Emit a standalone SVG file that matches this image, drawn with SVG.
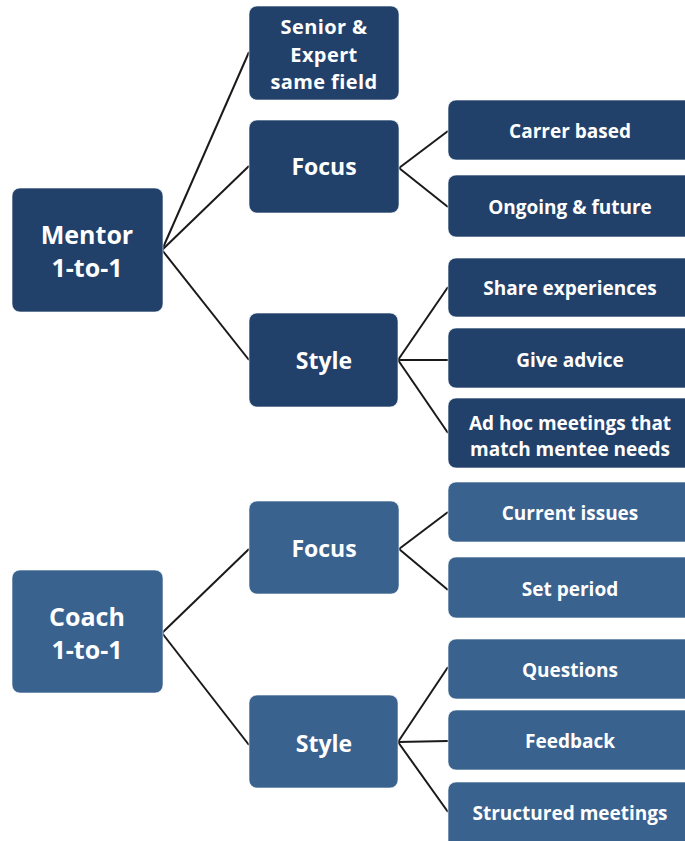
<svg xmlns="http://www.w3.org/2000/svg" width="685" height="841" viewBox="0 0 685 841">
<style>
.m{fill:#22416a}
.c{fill:#3a628f}
.b{stroke:#ffffff;stroke-opacity:0.6;stroke-width:1}
text{font-family:"Open Sans",Lato,"Liberation Sans",sans-serif;font-weight:700;fill:#ffffff;text-anchor:middle}
.t1{font-size:25px}
.t2{font-size:23px}
.t4{font-size:20px;letter-spacing:0.4px}
.t3{font-size:19px}
.conn line{stroke:#1a1a1a;stroke-width:2}
</style>
<rect width="685" height="841" fill="#ffffff"/>
<g class="conn" id="connectors">
<line x1="162" y1="250" x2="249" y2="52"/>
<line x1="162" y1="250" x2="249" y2="166"/>
<line x1="162" y1="250" x2="249" y2="360"/>
<line x1="399" y1="168" x2="448" y2="131"/>
<line x1="399" y1="168" x2="448" y2="207"/>
<line x1="398" y1="360" x2="448" y2="287"/>
<line x1="398" y1="360" x2="448" y2="360"/>
<line x1="398" y1="360" x2="448" y2="433"/>
<line x1="162" y1="633" x2="249" y2="549"/>
<line x1="162" y1="633" x2="249" y2="745"/>
<line x1="399" y1="549" x2="448" y2="512"/>
<line x1="399" y1="549" x2="448" y2="590"/>
<line x1="398" y1="742" x2="448" y2="667"/>
<line x1="398" y1="742" x2="448" y2="741"/>
<line x1="398" y1="742" x2="448" y2="812"/>
</g>
<g id="mentor"><rect class="m b" x="12" y="188" width="151" height="124" rx="8"/><text class="t1" x="87" y="244">Mentor</text><text class="t1" x="87" y="277">1-to-1</text></g>
<g id="senior"><rect class="m b" x="249" y="6" width="150" height="94" rx="8"/><text class="t4" x="324" y="34">Senior &amp;</text><text class="t4" x="324" y="61.5">Expert</text><text class="t4" x="324" y="89">same field</text></g>
<g id="mfocus"><rect class="m b" x="249" y="120" width="150" height="93" rx="8"/><text class="t2" x="324" y="175">Focus</text></g>
<g id="mstyle"><rect class="m b" x="249" y="313" width="149" height="94" rx="8"/><text class="t2" x="324" y="369">Style</text></g>
<g id="carrer"><rect class="m b" x="448" y="100" width="250" height="60" rx="8"/><text class="t3" x="570" y="138">Carrer based</text></g>
<g id="ongoing"><rect class="m b" x="448" y="175" width="250" height="62" rx="8"/><text class="t3" x="570" y="214">Ongoing &amp; future</text></g>
<g id="share"><rect class="m b" x="448" y="258" width="250" height="59" rx="8"/><text class="t3" x="570" y="295">Share experiences</text></g>
<g id="advice"><rect class="m b" x="448" y="328" width="250" height="60" rx="8"/><text class="t3" x="570" y="367">Give advice</text></g>
<g id="adhoc"><rect class="m b" x="448" y="398" width="250" height="70" rx="8"/><text class="t3" x="570" y="430">Ad hoc meetings that</text><text class="t3" x="570" y="456">match mentee needs</text></g>
<g id="coach"><rect class="c b" x="12" y="570" width="151" height="123" rx="8"/><text class="t1" x="87" y="626">Coach</text><text class="t1" x="87" y="659">1-to-1</text></g>
<g id="cfocus"><rect class="c b" x="249" y="501" width="150" height="93" rx="8"/><text class="t2" x="324" y="557">Focus</text></g>
<g id="cstyle"><rect class="c b" x="249" y="695" width="149" height="93" rx="8"/><text class="t2" x="324" y="752">Style</text></g>
<g id="current"><rect class="c b" x="448" y="482" width="250" height="60" rx="8"/><text class="t3" x="570" y="520">Current issues</text></g>
<g id="setperiod"><rect class="c b" x="448" y="557" width="250" height="61" rx="8"/><text class="t3" x="570" y="596">Set period</text></g>
<g id="questions"><rect class="c b" x="448" y="639" width="250" height="60" rx="8"/><text class="t3" x="570" y="677">Questions</text></g>
<g id="feedback"><rect class="c b" x="448" y="710" width="250" height="60" rx="8"/><text class="t3" x="570" y="748">Feedback</text></g>
<g id="structured"><rect class="c b" x="448" y="782" width="250" height="70" rx="8"/><text class="t3" x="570" y="820">Structured meetings</text></g>
</svg>
